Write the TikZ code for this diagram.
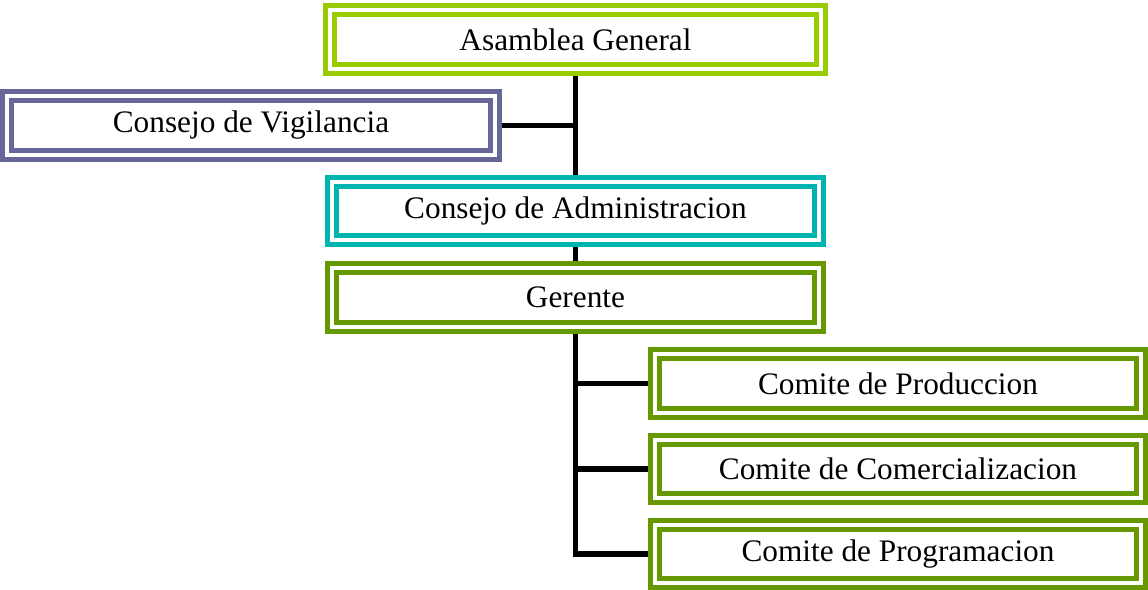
\documentclass[tikz,border=0pt]{standalone}
\usepackage{fontspec}
\setmainfont{Liberation Serif}
\usetikzlibrary{backgrounds}
\definecolor{cAsam}{HTML}{99CC00}
\definecolor{cVig}{HTML}{666699}
\definecolor{cAdm}{HTML}{00B4B0}
\definecolor{cGer}{HTML}{669900}
\tikzset{
  orgbox/.style={draw=#1, double=white, line width=5bp, double distance=4bp,
    fill=white, rectangle, inner sep=0pt, outer sep=7bp,
    font=\fontsize{31.3bp}{36bp}\selectfont},
  link/.style={line width=5.5bp, black}
}
\begin{document}
\begin{tikzpicture}[x=1bp,y=-1bp]
\useasboundingbox (0,0) rectangle (1148,590);
\node[orgbox=cAsam, minimum width=491bp, minimum height=59bp] (asam) at (575.5,39.5) {Asamblea General};
\node[orgbox=cVig, minimum width=488bp, minimum height=59bp] (vig) at (251,125.5) {Consejo de Vigilancia};
\node[orgbox=cAdm, minimum width=487bp, minimum height=58bp] (adm) at (575.5,211) {Consejo de Administracion};
\node[orgbox=cGer, minimum width=487bp, minimum height=59bp] (ger) at (575.5,297.5) {Gerente};
\node[orgbox=cGer, minimum width=486bp, minimum height=59bp] (c1) at (898,383.5) {Comite de Produccion};
\node[orgbox=cGer, minimum width=486bp, minimum height=58bp] (c2) at (898,469) {Comite de Comercializacion};
\node[orgbox=cGer, minimum width=486bp, minimum height=58bp] (c3) at (898,554) {Comite de Programacion};
\begin{scope}[on background layer]
\draw[link] (asam.south) -- (adm.north);
\draw[link] (vig.east) -- (vig.east -| asam.south);
\draw[link] (adm.south) -- (ger.north);
\draw[link] (ger.south) -- (ger.south |- c3.west) -- (c3.west);
\draw[link] (ger.south |- c1.west) -- (c1.west);
\draw[link] (ger.south |- c2.west) -- (c2.west);
\end{scope}
\end{tikzpicture}
\end{document}
